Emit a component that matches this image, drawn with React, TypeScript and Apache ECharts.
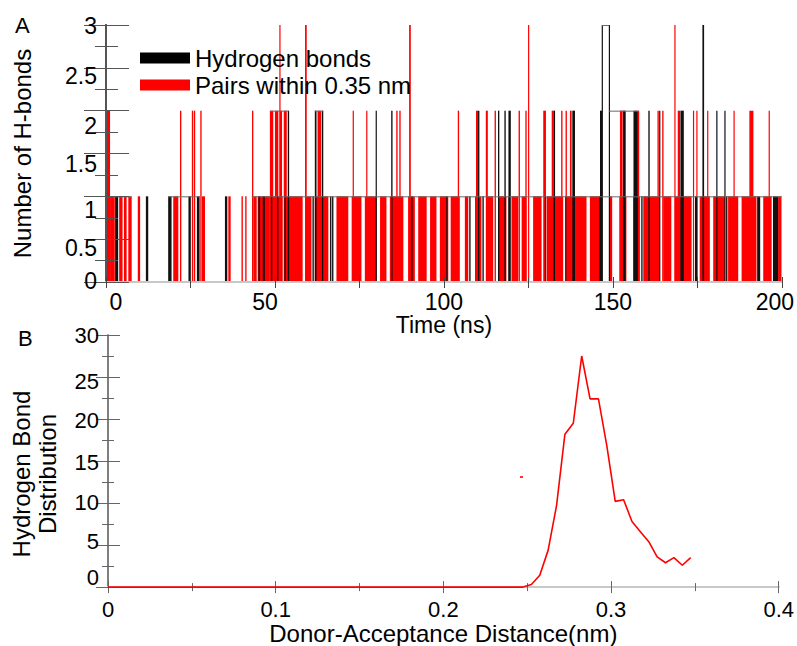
import React, { useEffect, useRef } from 'react';
import * as echarts from 'echarts';

// ---------- Panel A data: [start ns, end ns, count] ----------
const pairBars: number[][] = [
  [0.2, 1.2, 2], [1.2, 2.6, 1], [3.9, 4.9, 1], [5.3, 6.1, 1], [6.6, 7.6, 1], [9.4, 10.1, 1],
  [19.9, 21.4, 1], [21.9, 22.3, 2], [25.4, 25.8, 2], [26.0, 26.4, 2], [27.9, 28.3, 2], [28.4, 29.3, 1],
  [36.2, 36.9, 1], [40.1, 40.5, 1], [41.2, 41.6, 1], [43.2, 43.6, 2], [43.6, 44.6, 1], [44.9, 48.5, 1],
  [48.5, 49.5, 2], [50.0, 51.0, 2], [51.4, 52.1, 2], [52.6, 53.5, 2],
  [48.5, 52.3, 1], [52.7, 58.2, 1], [58.9, 60.8, 1], [61.8, 65.8, 1], [62.6, 63.7, 2],
  [68.2, 71.7, 1], [72.7, 75.6, 1], [73.0, 73.3, 2], [76.6, 80.1, 1], [77.0, 77.3, 2],
  [81.1, 83.0, 1], [84.0, 88.0, 1], [85.9, 86.3, 2], [86.8, 87.2, 2], [89.4, 91.4, 1],
  [92.4, 94.9, 1], [95.9, 97.8, 1], [98.8, 101.3, 1], [102.0, 104.7, 1], [104.1, 104.5, 2],
  [106.2, 107.2, 1], [109.2, 111.1, 1], [109.5, 110.1, 2], [112.6, 114.6, 1], [112.4, 113.0, 2],
  [115.0, 115.4, 2], [116.1, 118.5, 1], [120.0, 122.0, 1], [122.1, 122.5, 2], [123.0, 124.4, 1],
  [124.1, 124.5, 2], [126.4, 128.9, 1], [129.4, 130.2, 2], [130.4, 135.3, 1], [131.9, 132.4, 2],
  [134.7, 135.1, 2], [136.3, 142.2, 1], [136.0, 136.4, 2], [137.3, 137.8, 2], [143.2, 146.6, 1],
  [148.9, 149.8, 1], [151.9, 154.0, 1], [152.1, 152.9, 2], [156.0, 158.0, 1], [157.4, 157.8, 2],
  [159.0, 163.9, 1], [163.2, 163.6, 2], [164.6, 165.0, 2], [164.9, 167.3, 1], [168.3, 173.3, 1],
  [169.2, 169.9, 2], [173.7, 174.0, 2], [174.7, 175.0, 2], [175.7, 178.7, 1], [177.9, 178.2, 2],
  [179.7, 183.2, 1], [184.1, 187.1, 1], [185.7, 186.0, 2], [188.1, 192.5, 1], [190.4, 191.6, 2],
  [194.5, 197.0, 1], [196.1, 196.4, 2], [198.9, 199.9, 1],
  [51.3, 51.6, 3], [58.9, 59.4, 3], [89.7, 90.2, 3], [124.9, 125.2, 3], [168.2, 168.5, 3],
];

const hbondBars: number[][] = [
  [2.7, 3.6, 1], [11.8, 12.5, 1], [18.4, 19.4, 1], [24.4, 25.1, 1], [26.9, 27.7, 1], [35.2, 35.9, 1],
  [45.1, 45.6, 1], [46.4, 47.0, 1], [48.8, 49.2, 1], [50.6, 51.0, 1], [52.8, 53.2, 1], [61.1, 61.5, 1],
  [66.3, 66.7, 1], [66.9, 67.3, 1], [90.3, 90.7, 1], [100.7, 101.0, 1], [107.5, 107.9, 1],
  [111.4, 111.8, 1], [119.1, 119.5, 1], [129.9, 130.2, 1], [135.9, 136.2, 1], [146.0, 146.4, 1],
  [158.4, 158.8, 1], [174.3, 175.0, 1], [183.5, 183.9, 1], [192.7, 193.6, 1], [197.4, 198.9, 1],
  [53.8, 54.2, 2], [61.8, 62.3, 2], [63.9, 64.3, 2], [79.8, 80.1, 2], [84.4, 84.8, 2],
  [110.1, 110.5, 2], [116.0, 116.4, 2], [117.9, 118.3, 2], [119.1, 119.8, 2], [132.4, 132.9, 2],
  [138.0, 138.8, 2], [146.2, 146.8, 2], [153.0, 153.8, 2], [156.1, 157.4, 2], [160.5, 160.9, 2],
  [163.7, 164.0, 2], [170.0, 171.0, 2], [180.6, 180.9, 2], [183.0, 183.3, 2],
  [146.7, 146.9, 3], [148.8, 149.0, 3], [176.5, 177.0, 3],
];

const hbondRuns: number[][] = [
  [0.2, 7.6, 1], [18.4, 27.8, 1], [43.1, 200, 1],
  [48.5, 54.0, 2], [61.8, 64.3, 2], [148.9, 157.5, 2], [146.8, 148.9, 3],
];

// ---------- Panel B data ----------
const distX = [0, 0.2475, 0.2525, 0.2575, 0.2625, 0.2675, 0.2725, 0.2775, 0.2825, 0.2875, 0.2925,
  0.2975, 0.3025, 0.3075, 0.3125, 0.3175, 0.3225, 0.3275, 0.3325, 0.3375, 0.3425, 0.3475];
const distY = [0, 0, 0.3, 1.4, 4.4, 9.7, 18.2, 19.5, 27.5, 22.4, 22.4,
  16.8, 10.2, 10.4, 7.8, 6.6, 5.4, 3.6, 2.9, 3.5, 2.6, 3.5];
const strayX = [0.2466];
const strayY = [13.1];

const FONT = '"Liberation Sans", Arial, Helvetica, sans-serif';

function richFor(shifts: number[], vertical: boolean, fontSize: number) {
  const rich: Record<string, any> = {};
  shifts.forEach((d) => {
    const name = (d < 0 ? 'n' : 'p') + Math.abs(d);
    const p = 2 * Math.abs(d);
    const padding = vertical
      ? (d >= 0 ? [p, 0, 0, 0] : [0, 0, p, 0])
      : (d >= 0 ? [0, 0, 0, p] : [0, p, 0, 0]);
    rich[name] = { padding, fontSize, fontFamily: FONT, color: '#000' };
  });
  return rich;
}
const tag = (d: number) => (d < 0 ? 'n' : 'p') + Math.abs(d);

const yShiftA: Record<string, number> = { '0': -1, '0.5': 9, '1': 14, '1.5': 10, '2': 15, '2.5': 8, '3': 1 };
const xShiftA: Record<string, number> = { '0': 10, '50': -10, '100': 0, '150': 0, '200': -7 };
const yShiftB: Record<string, number> = { '0': -10, '5': -4, '10': -1, '15': 1, '20': 1, '25': 4, '30': 0 };

const barRender = (color: string) => (params: any, api: any) => {
  const a = api.coord([api.value(0), api.value(2)]);
  const b = api.coord([api.value(1), 0]);
  const w = Math.max(b[0] - a[0], 1.2);
  return {
    type: 'rect',
    shape: { x: a[0], y: a[1], width: w, height: b[1] - a[1] },
    style: { fill: color },
  };
};

const runRender = (params: any, api: any) => {
  const a = api.coord([api.value(0), api.value(2)]);
  const b = api.coord([api.value(1), api.value(2)]);
  return {
    type: 'line',
    shape: { x1: a[0], y1: a[1] + 0.5, x2: b[0], y2: b[1] + 0.5 },
    style: { stroke: '#6a6a6a', lineWidth: 1 },
  };
};

export default function App() {
  const ref = useRef<HTMLDivElement>(null);
  useEffect(() => {
    document.body.style.margin = '0';
    if (!ref.current) return;
    const chart = echarts.init(ref.current, null, { renderer: 'svg' });
    const axisText = { color: '#000', fontFamily: FONT };
    const option: any = {
      animation: false,
      backgroundColor: '#fff',
      textStyle: { fontFamily: FONT },
      title: [
        { text: 'A', left: 15, top: 14, padding: 0, textStyle: { fontSize: 22, fontWeight: 'normal', color: '#000', fontFamily: FONT } },
        { text: 'B', left: 18, top: 327, padding: 0, textStyle: { fontSize: 22, fontWeight: 'normal', color: '#000', fontFamily: FONT } },
      ],
      legend: {
        orient: 'vertical', left: 140, top: 46, padding: 0, itemWidth: 50, itemHeight: 11, itemGap: 3,
        icon: 'rect', selectedMode: false,
        textStyle: { fontSize: 24, color: '#000', fontFamily: FONT },
        data: [
          { name: 'Hydrogen bonds', itemStyle: { color: '#000' } },
          { name: 'Pairs within 0.35 nm', itemStyle: { color: '#ff0000' } },
        ],
      },
      grid: [
        { left: 106, top: 25, width: 676, height: 257 },
        { left: 108, top: 335, width: 672, height: 254 },
      ],
      xAxis: [
        {
          gridIndex: 0, type: 'value', min: 0, max: 200, interval: 50, position: 'bottom', z: 5,
          axisLine: { show: true, lineStyle: { color: '#d8d8d8', width: 1 } },
          axisTick: { show: true, inside: true, length: 5, lineStyle: { color: '#444' } },
          minorTick: { show: true, splitNumber: 2, length: 5, lineStyle: { color: '#444' } },
          splitLine: { show: false }, minorSplitLine: { show: false },
          axisLabel: {
            margin: 8, fontSize: 23, ...axisText,
            formatter: (v: number) => `{${tag(xShiftA[String(v)] ?? 0)}|${v}}`,
            rich: richFor([10, -10, 0, -7], false, 23),
          },
          name: 'Time (ns)', nameLocation: 'middle', nameGap: 25,
          nameTextStyle: { fontSize: 23, ...axisText },
        },
        {
          gridIndex: 0, type: 'value', min: 0, max: 200, interval: 25, position: 'top', z: 5,
          axisLine: { show: true, lineStyle: { color: '#c8c8c8', width: 2 } },
          axisTick: { show: true, inside: true, length: 6, lineStyle: { color: '#444' } },
          axisLabel: { show: false }, splitLine: { show: false },
        },
        {
          gridIndex: 1, type: 'value', min: 0, max: 0.4, interval: 0.1, position: 'bottom', z: 5,
          axisLine: { show: true, lineStyle: { color: '#999', width: 1.5 } },
          axisTick: { show: true, inside: true, length: 6, lineStyle: { color: '#666' } },
          minorTick: { show: true, splitNumber: 2, length: 4, lineStyle: { color: '#666' } },
          splitLine: { show: false }, minorSplitLine: { show: false },
          axisLabel: { margin: 11, fontSize: 22, ...axisText },
          name: 'Donor-Acceptance Distance(nm)', nameLocation: 'middle', nameGap: 30,
          nameTextStyle: { fontSize: 24, ...axisText },
        },
        {
          gridIndex: 1, type: 'value', min: 0, max: 0.4, interval: 0.1, position: 'top', z: 5,
          axisLine: { show: true, lineStyle: { color: '#c8c8c8', width: 2 } },
          axisTick: { show: true, inside: true, length: 6, lineStyle: { color: '#666' } },
          minorTick: { show: true, splitNumber: 2, length: 4, lineStyle: { color: '#666' } },
          axisLabel: { show: false }, splitLine: { show: false }, minorSplitLine: { show: false },
        },
      ],
      yAxis: [
        {
          gridIndex: 0, type: 'value', min: 0, max: 3, interval: 0.5, position: 'left', z: 5,
          axisLine: { show: true, lineStyle: { color: '#555', width: 2 } },
          axisTick: { show: true, inside: true, length: 23, lineStyle: { color: '#555' } },
          minorTick: { show: true, splitNumber: 2, length: 12, lineStyle: { color: '#555' } },
          splitLine: { show: false }, minorSplitLine: { show: false },
          axisLabel: {
            margin: 9, fontSize: 23, ...axisText,
            formatter: (v: number) => `{${tag(yShiftA[String(v)] ?? 0)}|${v}}`,
            rich: richFor([-1, 9, 14, 10, 15, 8, 1, 0], true, 23),
          },
          name: 'Number of H-bonds', nameLocation: 'middle', nameGap: 72,
          nameTextStyle: { fontSize: 24, ...axisText },
        },
        {
          gridIndex: 0, type: 'value', min: 0, max: 3, interval: 0.5, position: 'right', z: 5,
          axisLine: { show: true, lineStyle: { color: '#555', width: 2 } },
          axisTick: { show: true, inside: true, length: 22, lineStyle: { color: '#555' } },
          minorTick: { show: true, splitNumber: 2, length: 11, lineStyle: { color: '#555' } },
          axisLabel: { show: false }, splitLine: { show: false }, minorSplitLine: { show: false },
        },
        {
          gridIndex: 1, type: 'value', min: 0, max: 30, interval: 5, position: 'left', z: 5,
          axisLine: { show: true, lineStyle: { color: '#777', width: 1.5 } },
          axisTick: { show: true, inside: true, length: 12, lineStyle: { color: '#666' } },
          minorTick: { show: true, splitNumber: 2, length: 6, lineStyle: { color: '#666' } },
          splitLine: { show: false }, minorSplitLine: { show: false },
          axisLabel: {
            margin: 9, fontSize: 22, ...axisText,
            formatter: (v: number) => `{${tag(yShiftB[String(v)] ?? 0)}|${v}}`,
            rich: richFor([-10, -4, -1, 1, 4, 0], true, 22),
          },
          name: 'Hydrogen Bond\nDistribution', nameLocation: 'middle', nameGap: 48,
          nameTextStyle: { fontSize: 24, lineHeight: 26, padding: [0, 26, 0, 0], ...axisText },
        },
        {
          gridIndex: 1, type: 'value', min: 0, max: 30, interval: 5, position: 'right', z: 5,
          axisLine: { show: true, lineStyle: { color: '#777', width: 1.5 } },
          axisTick: { show: true, inside: true, length: 12, lineStyle: { color: '#666' } },
          minorTick: { show: true, splitNumber: 2, length: 6, lineStyle: { color: '#666' } },
          axisLabel: { show: false }, splitLine: { show: false }, minorSplitLine: { show: false },
        },
      ],
      series: [
        {
          name: 'Pairs within 0.35 nm', type: 'custom', xAxisIndex: 0, yAxisIndex: 0,
          renderItem: barRender('#ff0000'), itemStyle: { color: '#ff0000' },
          encode: { x: [0, 1], y: 2 }, data: pairBars, z: 2,
        },
        {
          name: 'Hydrogen bonds', type: 'custom', xAxisIndex: 0, yAxisIndex: 0,
          renderItem: barRender('#111'), itemStyle: { color: '#000' },
          encode: { x: [0, 1], y: 2 }, data: hbondBars, z: 3,
        },
        {
          name: 'runs', type: 'custom', xAxisIndex: 0, yAxisIndex: 0,
          renderItem: runRender, encode: { x: [0, 1], y: 2 }, data: hbondRuns, z: 3,
        },
        {
          name: 'distribution', type: 'line', xAxisIndex: 2, yAxisIndex: 2,
          data: distX.map((x, i) => [x, distY[i]]), showSymbol: false, symbol: 'none',
          lineStyle: { color: '#ff0000', width: 1.6 }, z: 6,
        },
        {
          name: 'stray', type: 'scatter', xAxisIndex: 2, yAxisIndex: 2,
          data: strayX.map((x, i) => [x, strayY[i]]), symbol: 'rect', symbolSize: [3, 2],
          itemStyle: { color: '#ff0000' },
        },
      ],
    };
    chart.setOption(option);
    return () => chart.dispose();
  }, []);
  return <div ref={ref} style={{ width: 797, height: 646 }} />;
}
